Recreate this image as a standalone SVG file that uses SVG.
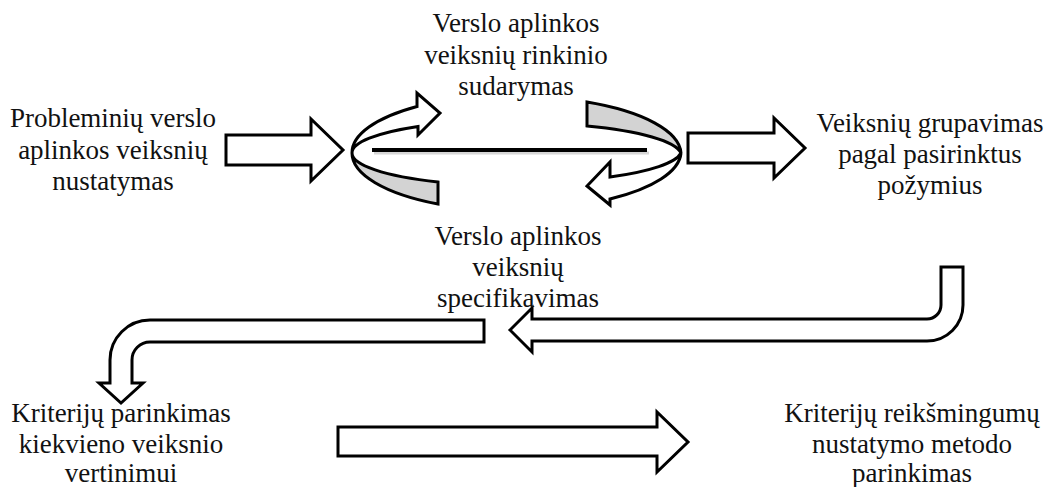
<svg xmlns="http://www.w3.org/2000/svg" width="1050" height="487" viewBox="0 0 1050 487">
<style>
.t{font-family:"Liberation Serif","Times New Roman",serif;font-size:27px;fill:#111;text-anchor:middle}
.blk{fill:#fff;stroke:#000;stroke-width:3;stroke-linejoin:miter}
.gry{fill:#d3d3d3;stroke:#000;stroke-width:3;stroke-linejoin:miter}
</style>
<rect width="1050" height="487" fill="#fff"/>
<g id="connectors">
  <path class="blk" d="M226,135 L311,135 L311,119 L343,150 L311,181 L311,165 L226,165 Z"/>
  <path class="blk" d="M688,133 L774,133 L774,118 L805,148 L774,178 L774,163 L688,163 Z"/>
  <path class="blk" d="M532,319 L927,319 A14 14 0 0 0 941,305 L941,267 L963,267 L963,305 A36 36 0 0 1 927,341 L532,341 L532,352 L510,330 L532,308 Z"/>
  <path class="blk" d="M484,320 L484,342 L150,342 A18 18 0 0 0 132,360 L132,383 L143,383 L121,403 L99,383 L110,383 L110,360 A40 40 0 0 1 150,320 Z"/>
  <path class="blk" d="M338,427 L657,427 L657,412 L688,442 L657,472 L657,456 L338,456 Z"/>
</g>
<g id="cycle">
  <line x1="374" y1="153" x2="649" y2="153" stroke="#bbb" stroke-width="3" opacity="0.6"/>
  <line x1="372" y1="150" x2="647" y2="150" stroke="#000" stroke-width="4"/>
  <path class="gry" d="M352,153 A164.5 58 0 0 0 438,204 L438,182 A164.5 33 0 0 1 352,153 Z"/>
  <path class="blk" d="M352,153 A164.5 58 0 0 1 417,106.5 L417,93 L440,113 L418,135 L418,126.5 A164.5 33 0 0 0 352,153 Z"/>
  <path class="gry" d="M681,153 A164.5 58 0 0 0 587,102 L587,126 A164.5 33 0 0 1 681,153 Z"/>
  <path class="blk" d="M681,153 A164.5 58 0 0 1 610,199 L610,205 L587,186 L610,162 L610,177 A164.5 33 0 0 0 681,153 Z"/>
</g>
<g id="n1"><text class="t" x="113" y="127">Probleminių verslo</text><text class="t" x="113" y="159">aplinkos veiksnių</text><text class="t" x="113" y="190">nustatymas</text></g>
<g id="n2"><text class="t" x="516" y="32">Verslo aplinkos</text><text class="t" x="516" y="64">veiksnių rinkinio</text><text class="t" x="516" y="95">sudarymas</text></g>
<g id="n3"><text class="t" x="930" y="132">Veiksnių grupavimas</text><text class="t" x="930" y="163">pagal pasirinktus</text><text class="t" x="930" y="194">požymius</text></g>
<g id="n4"><text class="t" x="518" y="245">Verslo aplinkos</text><text class="t" x="518" y="276">veiksnių</text><text class="t" x="518" y="307">specifikavimas</text></g>
<g id="n5"><text class="t" x="121" y="422">Kriterijų parinkimas</text><text class="t" x="121" y="453">kiekvieno veiksnio</text><text class="t" x="121" y="482">vertinimui</text></g>
<g id="n6"><text class="t" x="912" y="422">Kriterijų reikšmingumų</text><text class="t" x="912" y="453">nustatymo metodo</text><text class="t" x="912" y="482">parinkimas</text></g>
</svg>
